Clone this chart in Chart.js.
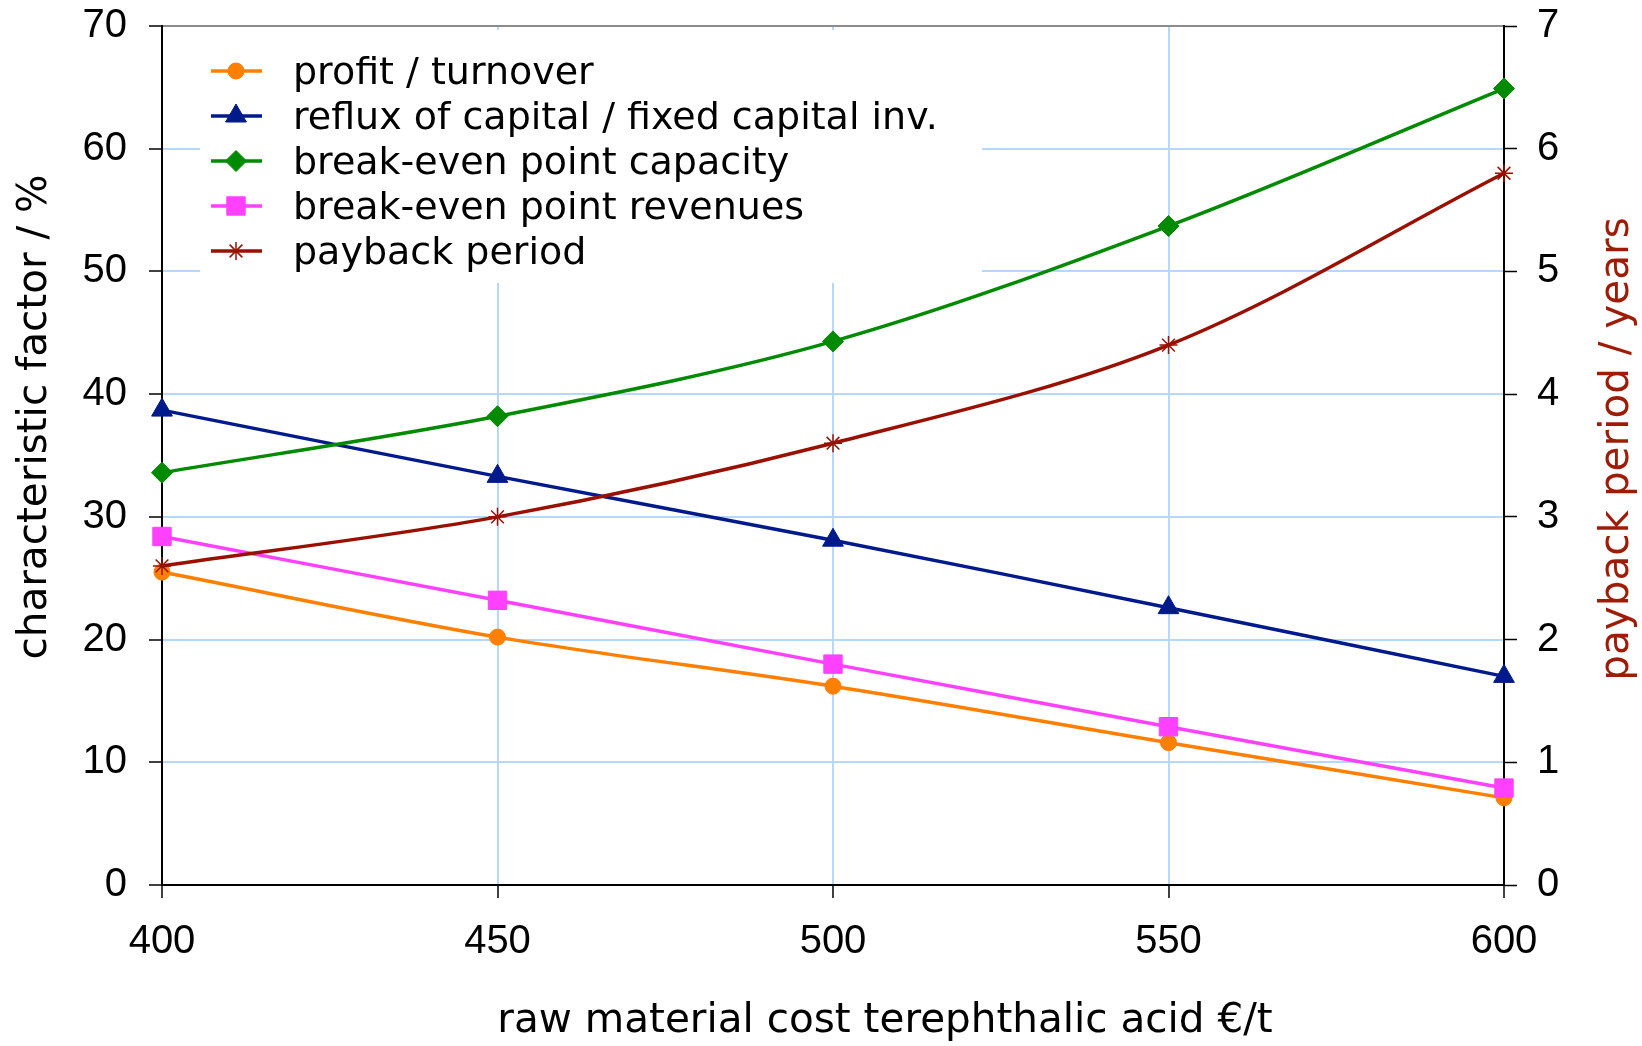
<!DOCTYPE html>
<html>
<head>
<meta charset="utf-8">
<title>raw material cost terephthalic acid</title>
<script src="https://cdn.jsdelivr.net/npm/chart.js@4.4.0/dist/chart.umd.min.js"></script>
<style>
  html, body { margin: 0; padding: 0; background: #fff; }
  #wrap { width: 1642px; height: 1046px; }
</style>
</head>
<body>
<div id="wrap"><canvas id="chart" width="1642" height="1046"></canvas></div>
<script>
// data
const costs = [400, 450, 500, 550, 600];
const profitTurnover = [25.5, 20.2, 16.2, 11.6, 7.1];
const refluxCapital = [38.7, 33.3, 28.1, 22.6, 17.0];
const breakEvenCapacity = [33.6, 38.2, 44.3, 53.7, 64.9];
const breakEvenRevenues = [28.4, 23.2, 18.0, 12.9, 7.9];
const paybackPeriod = [2.6, 3.0, 3.6, 4.4, 5.8];

const xTickValues = [400, 450, 500, 550, 600];
const leftTickValues = [0, 10, 20, 30, 40, 50, 60, 70];
const rightTickValues = [0, 1, 2, 3, 4, 5, 6, 7];

const seriesNames = [
    'profit / turnover',
    'reflux of capital / fixed capital inv.',
    'break-even point capacity',
    'break-even point revenues',
    'payback period'
];
const xTitle = 'raw material cost terephthalic acid €/t';
const leftTitle = 'characteristic factor / %';
const rightTitle = 'payback period / years';

const gridBlue = '#b4d8ff';
const titleFont = '40.5px "DejaVu Sans"';
const tickFont = { family: '"Liberation Sans", Arial, sans-serif', size: 40 };

function points(values) {
    return costs.map((c, i) => ({ x: c, y: values[i] }));
}

function makeSet(i, values, color, style, radius, axis) {
    return {
        label: seriesNames[i],
        data: points(values),
        yAxisID: axis,
        borderColor: color,
        backgroundColor: color,
        pointBackgroundColor: color,
        pointBorderColor: color,
        borderWidth: 3.5,
        pointStyle: style,
        pointRadius: radius,
        pointBorderWidth: style === 'star' ? 1.5 : 1,
        tension: 0.33,
        clip: false,
        order: 4 - i
    };
}

// keep the plot box where the picture has it
function fixSide(size) {
    return s => {
        s.width = size;
        s.paddingTop = 0;
        s.paddingBottom = 0;
    };
}

// legend drawn inside the plot, on a white box
const innerLegend = {
    id: 'innerLegend',
    afterDatasetsDraw(chart) {
        const ctx = chart.ctx;
        const a = chart.chartArea;
        ctx.save();
        ctx.fillStyle = '#fff';
        ctx.fillRect(a.left + 38, a.top + 4, 782, 253);
        ctx.font = '38px "DejaVu Sans"';
        ctx.textBaseline = 'alphabetic';
        chart.data.datasets.forEach((ds, i) => {
            const y = a.top + 45 + i * 45;
            ctx.strokeStyle = ds.borderColor;
            ctx.lineWidth = 3.5;
            ctx.beginPath();
            ctx.moveTo(a.left + 49, y);
            ctx.lineTo(a.left + 100, y);
            ctx.stroke();
            ctx.fillStyle = ds.pointBackgroundColor;
            ctx.lineWidth = ds.pointBorderWidth;
            Chart.helpers.drawPoint(ctx, {
                pointStyle: ds.pointStyle,
                radius: ds.pointRadius,
                rotation: 0,
                borderWidth: ds.pointBorderWidth
            }, a.left + 74, y);
            ctx.fillStyle = '#000';
            ctx.fillText(ds.label, a.left + 131, y + 13);
        });
        ctx.restore();
    }
};

// axis titles: the right one reads upwards like the left one
const axisTitles = {
    id: 'axisTitles',
    afterDraw(chart) {
        const ctx = chart.ctx;
        ctx.save();
        ctx.font = titleFont;
        ctx.textAlign = 'center';
        ctx.textBaseline = 'middle';
        ctx.fillStyle = '#000';
        ctx.fillText(xTitle, 885, 1021);

        ctx.save();
        ctx.translate(35, 417);
        ctx.rotate(-Math.PI / 2);
        ctx.fillText(leftTitle, 0, 0);
        ctx.restore();

        ctx.save();
        ctx.translate(1617, 449);
        ctx.rotate(-Math.PI / 2);
        ctx.fillStyle = '#9e1b05';
        ctx.fillText(rightTitle, 0, 0);
        ctx.restore();
        ctx.restore();
    }
};

const chart = new Chart(document.getElementById('chart').getContext('2d'), {
    type: 'line',
    data: {
        datasets: [
            makeSet(0, profitTurnover, '#ff7f00', 'circle', 8, 'y'),
            makeSet(1, refluxCapital, '#001a8c', 'triangle', 12, 'y'),
            makeSet(2, breakEvenCapacity, '#008a00', 'rectRot', 10.5, 'y'),
            makeSet(3, breakEvenRevenues, '#ff40ff', 'rect', 13, 'y'),
            makeSet(4, paybackPeriod, '#9a1000', 'star', 9, 'y2')
        ]
    },
    options: {
        responsive: false,
        animation: false,
        devicePixelRatio: 1,
        layout: { padding: { top: 26, left: 0, right: 0, bottom: 0 } },
        plugins: {
            legend: { display: false },
            tooltip: { enabled: false }
        },
        scales: {
            x: {
                type: 'linear',
                min: 400,
                max: 600,
                afterBuildTicks: s => { s.ticks = xTickValues.map(v => ({ value: v })); },
                afterFit: s => { s.height = 161; s.paddingLeft = 0; s.paddingRight = 0; },
                ticks: { color: '#000', font: tickFont, padding: 20, maxRotation: 0 },
                grid: { color: gridBlue, lineWidth: 2, tickColor: '#000', tickLength: 13, tickWidth: 1.5 },
                border: { color: '#000', width: 2 }
            },
            y: {
                position: 'left',
                min: 0,
                max: 70,
                afterBuildTicks: s => { s.ticks = leftTickValues.map(v => ({ value: v })); },
                afterFit: fixSide(162),
                ticks: { color: '#000', font: tickFont, padding: 22 },
                grid: {
                    color: c => (c.tick && c.tick.value === 70 ? '#8c8c8c' : gridBlue),
                    lineWidth: 2, tickColor: '#000', tickLength: 13, tickWidth: 1.5
                },
                border: { color: '#000', width: 2 }
            },
            y2: {
                position: 'right',
                min: 0,
                max: 7,
                afterBuildTicks: s => { s.ticks = rightTickValues.map(v => ({ value: v })); },
                afterFit: fixSide(138),
                ticks: { color: '#000', font: tickFont, padding: 20 },
                grid: { drawOnChartArea: false, tickColor: '#000', tickLength: 13, tickWidth: 1.5 },
                border: { color: '#000', width: 2 }
            }
        }
    },
    plugins: [innerLegend, axisTitles]
});
</script>
</body>
</html>
